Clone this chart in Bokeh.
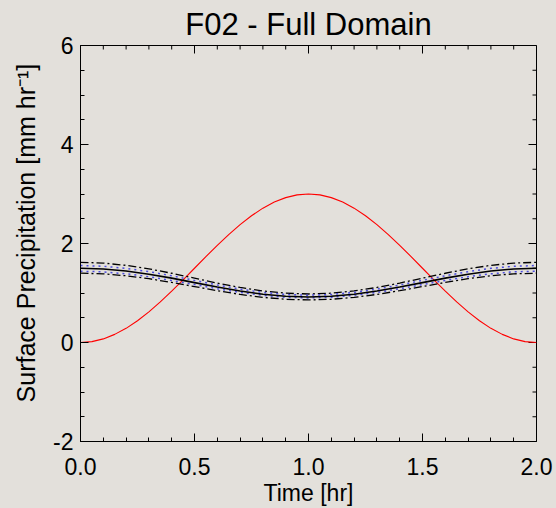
import math
from bokeh.plotting import figure
from bokeh.models import FixedTicker, Range1d
from bokeh.embed import file_html
from bokeh.resources import INLINE

BG = "#e3e0db"

time_hr = [0.0, 0.1, 0.2, 0.3, 0.4, 0.5, 0.6, 0.7, 0.8, 0.9, 1.0,
           1.1, 1.2, 1.3, 1.4, 1.5, 1.6, 1.7, 1.8, 1.9, 2.0]
forcing_time = [0.0, 0.05, 0.1, 0.15, 0.2, 0.25, 0.3, 0.35, 0.4, 0.45, 0.5,
                0.55, 0.6, 0.65, 0.7, 0.75, 0.8, 0.85, 0.9, 0.95, 1.0,
                1.05, 1.1, 1.15, 1.2, 1.25, 1.3, 1.35, 1.4, 1.45, 1.5,
                1.55, 1.6, 1.65, 1.7, 1.75, 1.8, 1.85, 1.9, 1.95, 2.0]
forcing = [0.0, 0.018, 0.073, 0.164, 0.286, 0.439, 0.618, 0.819, 1.036, 1.265, 1.5,
           1.735, 1.964, 2.181, 2.382, 2.561, 2.714, 2.837, 2.927, 2.982, 3.0,
           2.982, 2.927, 2.837, 2.714, 2.561, 2.382, 2.181, 1.964, 1.735, 1.5,
           1.265, 1.036, 0.819, 0.618, 0.439, 0.286, 0.164, 0.073, 0.018, 0.0]
mean_precip = [1.50, 1.486, 1.445, 1.38, 1.30, 1.21, 1.12, 1.04, 0.975, 0.934, 0.92,
               0.934, 0.975, 1.04, 1.12, 1.21, 1.30, 1.38, 1.445, 1.486, 1.50]
upper_outer = [1.62, 1.604, 1.559, 1.488, 1.399, 1.30, 1.20, 1.112, 1.041, 0.996, 0.98,
               0.996, 1.041, 1.112, 1.20, 1.30, 1.399, 1.488, 1.559, 1.604, 1.62]
upper_inner = [1.555, 1.54, 1.498, 1.431, 1.348, 1.255, 1.162, 1.079, 1.012, 0.970, 0.955,
               0.970, 1.012, 1.079, 1.162, 1.255, 1.348, 1.431, 1.498, 1.54, 1.555]
lower_inner = [1.44, 1.427, 1.388, 1.329, 1.253, 1.17, 1.087, 1.011, 0.952, 0.913, 0.90,
               0.913, 0.952, 1.011, 1.087, 1.17, 1.253, 1.329, 1.388, 1.427, 1.44]
lower_outer = [1.40, 1.387, 1.348, 1.289, 1.213, 1.13, 1.047, 0.971, 0.912, 0.873, 0.86,
               0.873, 0.912, 0.971, 1.047, 1.13, 1.213, 1.289, 1.348, 1.387, 1.40]

x_major = [0.0, 0.5, 1.0, 1.5, 2.0]
x_minor = [0.1, 0.2, 0.3, 0.4, 0.6, 0.7, 0.8, 0.9, 1.1, 1.2, 1.3, 1.4, 1.6, 1.7, 1.8, 1.9]
y_major = [-2, 0, 2, 4, 6]
y_minor = [-1.5, -1, -0.5, 0.5, 1, 1.5, 2.5, 3, 3.5, 4.5, 5, 5.5]
x_labels = {0.0: "0.0", 0.5: "0.5", 1.0: "1.0", 1.5: "1.5", 2.0: "2.0"}
y_labels = {-2: "-2", 0: "0", 2: "2", 4: "4", 6: "6"}

X0, X1 = 0, 2
Y0, Y1 = -2, 6
FONT = "Liberation Sans"

p = figure(width=556, height=508, output_backend="svg", toolbar_location=None,
           x_range=Range1d(X0, X1), y_range=Range1d(Y0, Y1),
           title="F02 - Full Domain", x_axis_label="Time [hr]",
           y_axis_label="\u00a0\u00a0\u00a0Surface Precipitation [mm hr⁻¹]",
           min_border_left=80, min_border_right=20, min_border_top=43, min_border_bottom=67)

p.background_fill_color = BG
p.border_fill_color = BG
p.outline_line_color = "black"
p.outline_line_width = 1
p.grid.visible = False

p.title.text_font = FONT
p.title.text_font_size = "31px"
p.title.text_font_style = "normal"
p.title.align = "center"
p.title.text_color = "black"
p.title.standoff = 8

def style_axis(ax, ticks, minor, labels):
    ax.ticker = FixedTicker(ticks=ticks, minor_ticks=minor)
    ax.major_label_overrides = labels
    ax.major_tick_in = 8
    ax.major_tick_out = 0
    ax.minor_tick_in = 4
    ax.minor_tick_out = 0
    ax.axis_line_color = "black"
    ax.major_tick_line_color = "black"
    ax.minor_tick_line_color = "black"
    ax.major_label_text_font = FONT
    ax.major_label_text_color = "black"
    ax.major_label_text_font_size = "23px"
    ax.axis_label_text_font = FONT
    ax.axis_label_text_font_style = "normal"
    ax.axis_label_text_color = "black"

style_axis(p.xaxis[0], x_major, x_minor, x_labels)
style_axis(p.yaxis[0], y_major, y_minor, y_labels)
p.xaxis[0].axis_label_text_font_size = "23px"
p.yaxis[0].axis_label_text_font_size = "25px"
p.xaxis[0].major_label_standoff = 16
p.xaxis[0].axis_label_standoff = 2
p.yaxis[0].major_label_standoff = 7
p.yaxis[0].axis_label_standoff = 10

# mirrored inward ticks on top and right edges (clipped dash markers on the frame edge)
p.scatter(x_major, [Y1] * len(x_major), marker="dash", angle=math.pi / 2, size=16,
          line_color="black", line_width=1)
p.scatter(x_minor, [Y1] * len(x_minor), marker="dash", angle=math.pi / 2, size=8,
          line_color="black", line_width=1)
p.scatter([X1] * len(y_major), y_major, marker="dash", size=16,
          line_color="black", line_width=1)
p.scatter([X1] * len(y_minor), y_minor, marker="dash", size=8,
          line_color="black", line_width=1)

p.line(forcing_time, forcing, line_color="#ff0000", line_width=1.1)
p.line(time_hr, upper_outer, line_color="black", line_width=1.3, line_dash="8 3 2 3")
p.line(time_hr, lower_outer, line_color="black", line_width=1.3, line_dash="8 3 2 3")
p.line(time_hr, upper_inner, line_color="#4a4ae0", line_width=1.5, line_dash="2 4")
p.line(time_hr, lower_inner, line_color="#4a4ae0", line_width=1.5, line_dash="2 4")
p.line(time_hr, mean_precip, line_color="black", line_width=1.6)

html = file_html(p, INLINE)
html = html.replace("<head>", "<head><style>html,body{background:%s;}</style>" % BG, 1)
open("out.html", "w").write(html)
